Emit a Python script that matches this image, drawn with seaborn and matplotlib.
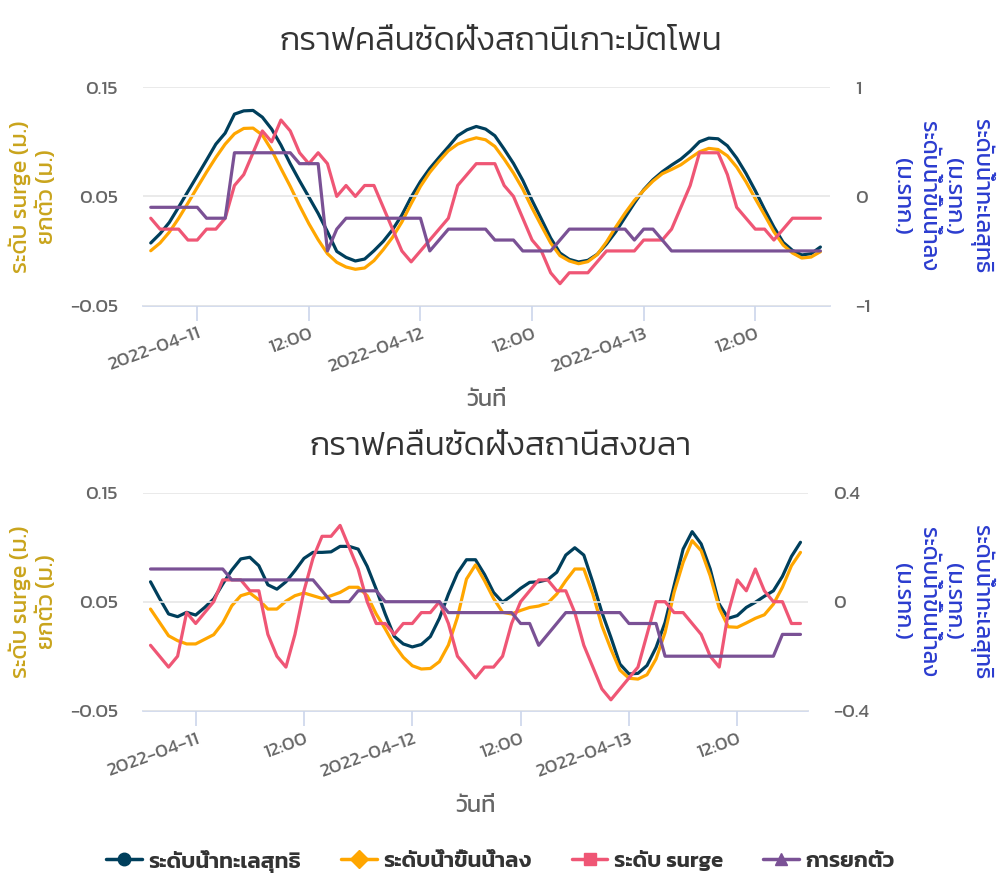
import matplotlib
matplotlib.use("Agg")
import matplotlib.pyplot as plt
import matplotlib.dates as mdates
from matplotlib.lines import Line2D
import pandas as pd
import seaborn as sns

# ===== ข้อมูล (อ่านค่าจากกราฟต้นฉบับ รายชั่วโมง) =====
times = pd.date_range("2022-04-10 19:00", periods=73, freq="h")

# สถานีเกาะมัตโพน
mattaphon_sea = [-0.427, -0.342, -0.238, -0.098, 0.046, 0.189, 0.333, 0.479, 0.580, 0.754,
                 0.784, 0.788, 0.726, 0.617, 0.470, 0.299, 0.143, -0.006, -0.156, -0.324,
                 -0.504, -0.559, -0.592, -0.574, -0.498, -0.412, -0.305, -0.171, -0.006, 0.137,
                 0.256, 0.357, 0.455, 0.556, 0.610, 0.641, 0.617, 0.556, 0.433, 0.302,
                 0.147, -0.037, -0.208, -0.382, -0.519, -0.577, -0.601, -0.586, -0.531, -0.437,
                 -0.324, -0.192, -0.061, 0.061, 0.153, 0.226, 0.287, 0.342, 0.415, 0.501,
                 0.534, 0.528, 0.464, 0.351, 0.211, 0.052, -0.119, -0.281, -0.421, -0.495,
                 -0.537, -0.525, -0.464]
mattaphon_tide = [-0.498, -0.427, -0.327, -0.201, -0.061, 0.082, 0.223, 0.357, 0.479, 0.574,
                  0.623, 0.626, 0.562, 0.424, 0.256, 0.092, -0.085, -0.250, -0.397, -0.525,
                  -0.604, -0.647, -0.668, -0.656, -0.589, -0.488, -0.375, -0.235, -0.067, 0.092,
                  0.220, 0.324, 0.418, 0.479, 0.513, 0.537, 0.519, 0.458, 0.342, 0.214,
                  0.067, -0.107, -0.269, -0.427, -0.543, -0.592, -0.617, -0.598, -0.534, -0.418,
                  -0.281, -0.153, -0.037, 0.055, 0.140, 0.208, 0.247, 0.290, 0.351, 0.409,
                  0.440, 0.430, 0.372, 0.269, 0.134, -0.021, -0.171, -0.324, -0.446, -0.519,
                  -0.565, -0.556, -0.507]
mattaphon_surge = [0.03, 0.02, 0.02, 0.02, 0.01, 0.01, 0.02, 0.02, 0.03, 0.06,
                   0.07, 0.09, 0.11, 0.10, 0.12, 0.11, 0.09, 0.08, 0.09, 0.08,
                   0.05, 0.06, 0.05, 0.06, 0.06, 0.04, 0.02, 0.00, -0.01, 0.00,
                   0.01, 0.02, 0.03, 0.06, 0.07, 0.08, 0.08, 0.08, 0.06, 0.05,
                   0.03, 0.01, 0.00, -0.02, -0.03, -0.02, -0.02, -0.02, -0.01, 0.00,
                   0.00, 0.00, 0.00, 0.01, 0.01, 0.01, 0.02, 0.04, 0.06, 0.09,
                   0.09, 0.09, 0.07, 0.04, 0.03, 0.02, 0.02, 0.01, 0.02, 0.03,
                   0.03, 0.03, 0.03]
mattaphon_uplift = ([0.04] * 6 + [0.03] * 3 + [0.09] * 7 + [0.08] * 3 + [0.00, 0.02]
                    + [0.03] * 9 + [0.00, 0.01] + [0.02] * 5 + [0.01] * 3 + [0.00] * 4
                    + [0.01] + [0.02] * 7 + [0.01] + [0.02] * 2 + [0.01] + [0.00] * 17)

# สถานีสงขลา
songkhla_sea = [0.073, 0.012, -0.045, -0.055, -0.039, -0.049, -0.021, 0.010, 0.065, 0.116,
                0.157, 0.163, 0.132, 0.062, 0.046, 0.073, 0.114, 0.159, 0.181, 0.181,
                0.183, 0.203, 0.203, 0.193, 0.130, 0.046, -0.045, -0.127, -0.155, -0.166,
                -0.157, -0.128, -0.061, 0.028, 0.105, 0.154, 0.154, 0.100, 0.034, -0.002,
                0.022, 0.049, 0.071, 0.073, 0.081, 0.108, 0.171, 0.198, 0.171, 0.071,
                -0.039, -0.131, -0.229, -0.265, -0.263, -0.234, -0.168, -0.076, 0.059, 0.193,
                0.257, 0.212, 0.120, -0.009, -0.061, -0.051, -0.021, -0.002, 0.020, 0.040,
                0.093, 0.166, 0.218]
songkhla_tide = [-0.027, -0.076, -0.125, -0.143, -0.155, -0.155, -0.138, -0.121, -0.078, -0.015,
                 0.022, 0.032, 0.007, -0.027, -0.027, 0.002, 0.022, 0.032, 0.022, 0.012,
                 0.022, 0.034, 0.053, 0.053, 0.022, -0.045, -0.100, -0.159, -0.204, -0.235,
                 -0.247, -0.245, -0.220, -0.159, -0.057, 0.083, 0.135, 0.077, 0.012, -0.039,
                 -0.045, -0.032, -0.021, -0.016, -0.005, 0.028, 0.077, 0.120, 0.120, 0.028,
                 -0.088, -0.174, -0.251, -0.281, -0.284, -0.268, -0.210, -0.113, 0.034, 0.144,
                 0.224, 0.187, 0.095, -0.024, -0.092, -0.094, -0.078, -0.061, -0.048, -0.009,
                 0.053, 0.132, 0.181]
songkhla_surge = [0.01, 0.00, -0.01, 0.00, 0.04, 0.03, 0.04, 0.05, 0.07, 0.07,
                  0.07, 0.06, 0.06, 0.02, 0.00, -0.01, 0.02, 0.06, 0.09, 0.11,
                  0.11, 0.12, 0.10, 0.08, 0.05, 0.03, 0.03, 0.02, 0.03, 0.03,
                  0.04, 0.04, 0.05, 0.03, 0.00, -0.01, -0.02, -0.01, -0.01, 0.00,
                  0.03, 0.05, 0.06, 0.07, 0.07, 0.06, 0.06, 0.04, 0.01, -0.01,
                  -0.03, -0.04, -0.03, -0.02, -0.01, 0.02, 0.05, 0.05, 0.04, 0.04,
                  0.03, 0.02, 0.00, -0.01, 0.04, 0.07, 0.06, 0.08, 0.06, 0.05,
                  0.05, 0.03, 0.03]
songkhla_uplift = ([0.08] * 9 + [0.07] * 10 + [0.06] + [0.05] * 3 + [0.06] * 3
                   + [0.05] * 7 + [0.04] * 8 + [0.03] * 2 + [0.01, 0.02, 0.03]
                   + [0.04] * 7 + [0.03] * 4 + [0.00] * 13 + [0.02] * 3)

series_names = ["ระดับน้ำทะเลสุทธิ", "ระดับน้ำขึ้นน้ำลง", "ระดับ surge", "การยกตัว"]
series_colors = ["#003f5c", "#ffa600", "#ef5675", "#7a5195"]
series_markers = ["o", "D", "s", "^"]

stations = [
    {"title": "กราฟคลื่นซัดฝั่งสถานีเกาะมัตโพน",
     "sea": mattaphon_sea, "tide": mattaphon_tide,
     "surge": mattaphon_surge, "uplift": mattaphon_uplift,
     "right_lim": (-1, 1), "right_ticks": [-1, 0, 1],
     "box": [143, 87.3, 830, 305.5]},
    {"title": "กราฟคลื่นซัดฝั่งสถานีสงขลา",
     "sea": songkhla_sea, "tide": songkhla_tide,
     "surge": songkhla_surge, "uplift": songkhla_uplift,
     "right_lim": (-0.4, 0.4), "right_ticks": [-0.4, 0, 0.4],
     "box": [143, 492.7, 808, 710.7]},
]

# ===== สไตล์ =====
W, H = 1001, 873
sns.set_theme(style="white")
plt.rcParams["font.family"] = ["Kanit", "DejaVu Sans"]

GRID = "#e6e6e6"
AXIS = "#ccd6eb"
LABEL = "#666666"
LEFT_TITLE = "#c9a41c"
RIGHT_TITLE = "#2b3ccf"

fig = plt.figure(figsize=(W / 100, H / 100), dpi=100)

x_start = pd.Timestamp("2022-04-10 18:10")
x_end_top = pd.Timestamp("2022-04-13 20:02")
x_end_bot = pd.Timestamp("2022-04-13 19:50")


def date_fmt(x, pos=None):
    d = mdates.num2date(x)
    return d.strftime("%Y-%m-%d") if d.hour == 0 else d.strftime("%H:%M")


for k, st in enumerate(stations):
    x0, y0, x1, y1 = st["box"]
    rect = [x0 / W, 1 - y1 / H, (x1 - x0) / W, (y1 - y0) / H]

    # แกนหลัก = ระดับน้ำ (แกนขวา), แกนซ้อน = surge / ยกตัว (แกนซ้าย)
    ax_r = fig.add_axes(rect)
    ax_l = ax_r.twinx()

    df = pd.DataFrame({"time": times, "sea": st["sea"], "tide": st["tide"],
                       "surge": st["surge"], "uplift": st["uplift"]})

    sns.lineplot(data=df, x="time", y="sea", ax=ax_r, color=series_colors[0], lw=2.3)
    sns.lineplot(data=df, x="time", y="tide", ax=ax_r, color=series_colors[1], lw=2.3)
    sns.lineplot(data=df, x="time", y="surge", ax=ax_l, color=series_colors[2], lw=2.3)
    sns.lineplot(data=df, x="time", y="uplift", ax=ax_l, color=series_colors[3], lw=2.3)

    ax_r.set_ylim(*st["right_lim"])
    ax_r.set_yticks(st["right_ticks"])
    ax_r.set_yticklabels([f"{v:g}".replace("-", "−") for v in st["right_ticks"]])
    ax_r.yaxis.tick_right()
    ax_l.set_ylim(-0.05, 0.15)
    ax_l.set_yticks([-0.05, 0.05, 0.15])
    ax_l.set_yticklabels(["−0.05", "0.05", "0.15"])
    ax_l.yaxis.tick_left()

    ax_r.set_xlim(x_start, x_end_top if k == 0 else x_end_bot)
    ax_r.xaxis.set_major_locator(mdates.HourLocator(byhour=[0, 12]))
    ax_r.xaxis.set_major_formatter(plt.FuncFormatter(date_fmt))

    for a in (ax_r, ax_l):
        a.set_xlabel("")
        a.set_ylabel("")
        for s in ("top", "left", "right", "bottom"):
            a.spines[s].set_visible(False)
        a.tick_params(axis="y", length=0, labelsize=14, labelcolor=LABEL)
        a.patch.set_visible(False)

    ax_l.grid(axis="y", color=GRID, lw=1.2)
    ax_l.grid(axis="x", visible=False)
    ax_r.grid(False)
    ax_l.tick_params(axis="y", pad=18)
    ax_r.tick_params(axis="y", pad=18)

    ax_r.spines["bottom"].set_visible(True)
    ax_r.spines["bottom"].set_color(AXIS)
    ax_r.spines["bottom"].set_linewidth(1.2)
    ax_r.tick_params(axis="x", direction="out", length=11, width=1.2, color=AXIS,
                     labelsize=14, labelcolor=LABEL, pad=3, bottom=True)
    for lab in ax_r.get_xticklabels():
        lab.set_rotation(20)
        lab.set_ha("right")
        lab.set_va("top")
        lab.set_rotation_mode("anchor")

    # ชื่อกราฟ / ชื่อแกน
    fig.text(0.5, 1 - (y0 - 45) / H, st["title"], ha="center", va="center",
             fontsize=24, fontweight=300, color="#333333")
    xc = (x0 + x1) / 2
    fig.text(xc / W, 1 - (y1 + 95) / H, "วันที่", ha="center", va="center",
             fontsize=17, color=LABEL)
    yc = 1 - (y0 + y1) / 2 / H
    fig.text(33 / W, yc, "ระดับ surge (ม.)\nยกตัว (ม.)", rotation=90,
             ha="center", va="center", fontsize=17, color=LEFT_TITLE, linespacing=1.25,
             multialignment="center")
    fig.text(943 / W, yc, "ระดับน้ำทะเลสุทธิ\n(ม.รทก.)\nระดับน้ำขึ้นน้ำลง\n(ม.รทก.)",
             rotation=270, ha="center", va="center", fontsize=16.5, color=RIGHT_TITLE,
             linespacing=1.45, multialignment="center")

# ===== คำอธิบายสัญลักษณ์ =====
handles = [Line2D([], [], color=c, marker=m, lw=2.5, markersize=9)
           for c, m in zip(series_colors, series_markers)]
fig.legend(handles, series_names, loc="center", bbox_to_anchor=(0.5, 1 - 861 / H),
           ncol=4, frameon=False, handlelength=1.6, columnspacing=1.8, handletextpad=0.3,
           prop={"family": ["Kanit", "DejaVu Sans"], "weight": 600, "size": 16},
           labelcolor="#333333")

fig.savefig("out.png", dpi=100)
